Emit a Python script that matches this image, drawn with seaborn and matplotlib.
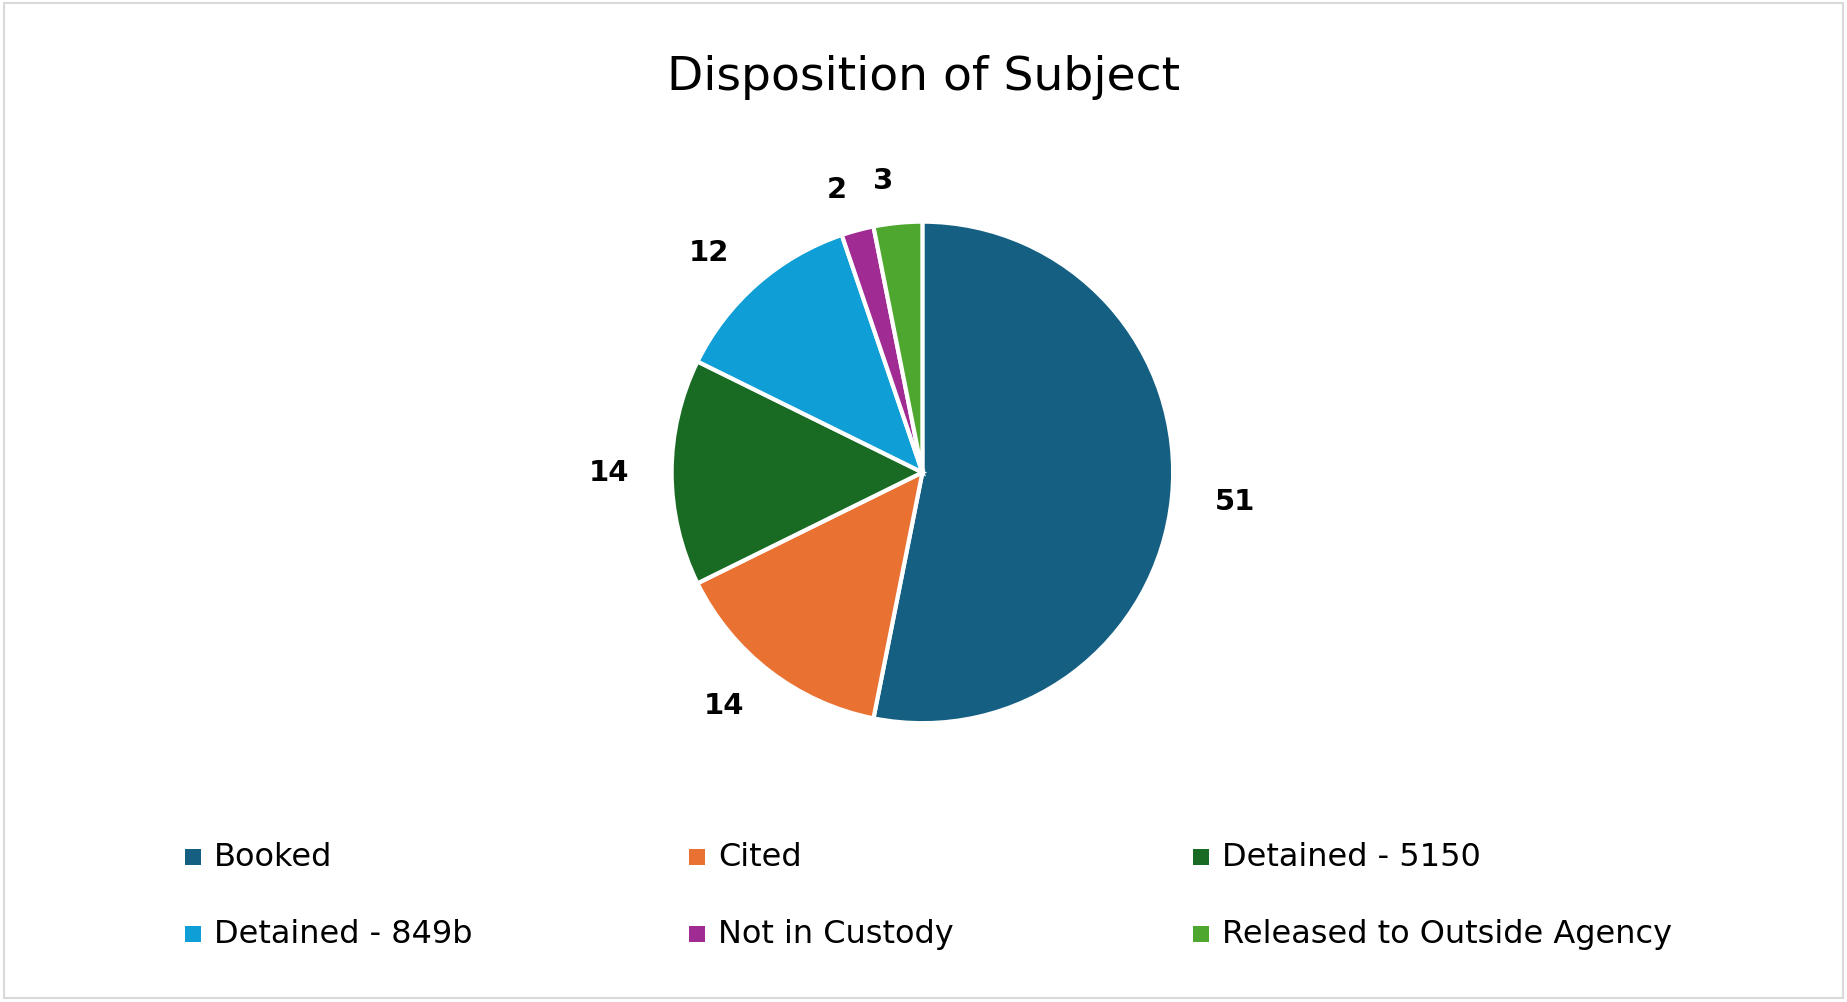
import matplotlib
matplotlib.use("Agg")
import matplotlib.pyplot as plt
import matplotlib.patches as mpatches
import seaborn as sns

categories = ["Booked", "Cited", "Detained - 5150", "Detained - 849b", "Not in Custody", "Released to Outside Agency"]
values = [51, 14, 14, 12, 2, 3]
colors = ["#156082", "#E97132", "#196B24", "#0F9ED5", "#A02B93", "#4EA72E"]

sns.set_theme(style="white")
plt.rcParams['font.family'] = ['DejaVu Sans']

fig = plt.figure(figsize=(18.47, 10.03), dpi=100)
fig.patches.append(mpatches.Rectangle((0.002, 0.004), 0.996, 0.992, transform=fig.transFigure,
                                      fill=False, edgecolor="#d9d9d9", linewidth=1.5))

w, h = 0.2718 * 2, 0.5 * 2
ax = fig.add_axes([0.4994 - w / 2, 0.528 - h / 2, w, h])
ax.pie(values, colors=colors, startangle=90, counterclock=False, radius=1,
       labels=[str(v) for v in values], labeldistance=1.17,
       wedgeprops=dict(edgecolor="white", linewidth=3),
       textprops=dict(fontsize=21, fontweight="bold", color="black"))
ax.set_xlim(-2, 2)
ax.set_ylim(-2, 2)
ax.set_aspect("equal")
ax.axis("off")

fig.text(0.5, 0.923, "Disposition of Subject", ha="center", va="center", fontsize=34, color="black")

# legend laid out row by row, three columns
col_x = [0.100, 0.373, 0.646]
row_y = [0.145, 0.068]
sq_w, sq_h = 16 / 1847, 16 / 1003
for i, (c, lab) in enumerate(zip(colors, categories)):
    x = col_x[i % 3]
    y = row_y[i // 3]
    fig.patches.append(mpatches.Rectangle((x, y - sq_h / 2), sq_w, sq_h, transform=fig.transFigure,
                                          facecolor=c, edgecolor="none"))
    fig.text(x + sq_w + 0.007, y, lab, ha="left", va="center", fontsize=23, color="black")

fig.savefig("out.png", dpi=100, facecolor="white")
